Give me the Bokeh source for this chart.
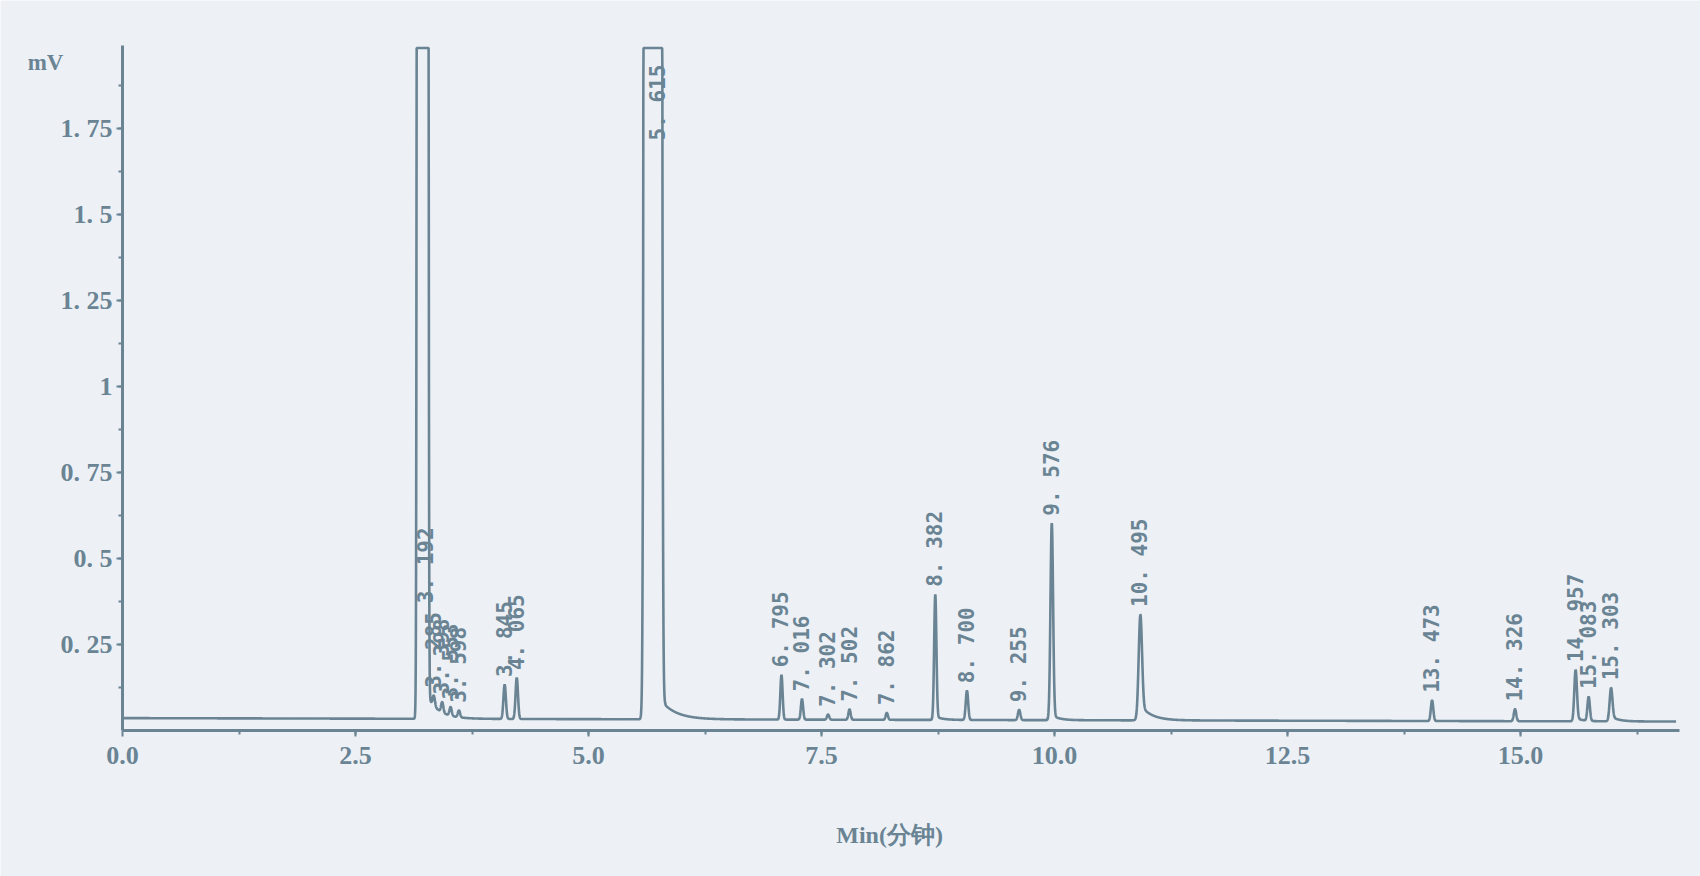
import numpy as np
from bokeh.plotting import figure
from bokeh.models import FixedTicker, Range1d
from bokeh.core.properties import value
from bokeh.embed import file_html
from bokeh.resources import INLINE

# ---------------- data ----------------
peak_labels = ["3. 192", "3. 285", "3. 398", "3. 553", "3. 598", "3. 845", "4. 065",
               "5. 615", "6. 795", "7. 016", "7. 302", "7. 502", "7. 862", "8. 382",
               "8. 700", "9. 255", "9. 576", "10. 495", "13. 473", "14. 326",
               "14. 957", "15. 083", "15. 303"]
# peak positions on the drawn time axis (min)
peak_time = [3.22, 3.34, 3.43, 3.52, 3.61, 4.10, 4.23,
             5.69, 7.07, 7.29, 7.57, 7.80, 8.20, 8.72,
             9.06, 9.62, 9.97, 10.92, 14.05, 14.94,
             15.59, 15.73, 15.97]
# peak amplitude above baseline (mV); off-scale peaks are very large
peak_amp = [1.0e4, 0.030, 0.030, 0.025, 0.020, 0.100, 0.120,
            1.0e4, 0.130, 0.060, 0.015, 0.030, 0.020, 0.360,
            0.085, 0.030, 0.565, 0.285, 0.060, 0.035,
            0.145, 0.070, 0.090]
# peak widths (sigma, min)
peak_sigma = [0.0157, 0.012, 0.012, 0.012, 0.012, 0.013, 0.013,
              0.0246, 0.012, 0.012, 0.012, 0.012, 0.012, 0.012,
              0.013, 0.013, 0.014, 0.018, 0.013, 0.013,
              0.014, 0.013, 0.015]
# tailing after peaks (amplitude mV, decay min)
tail_amp = [0.095, 0, 0, 0, 0, 0, 0,
            0.095, 0, 0, 0, 0, 0, 0.01,
            0, 0, 0.015, 0.045, 0, 0,
            0.01, 0, 0.015]
tail_tau = [0.13, 1, 1, 1, 1, 1, 1,
            0.16, 1, 1, 1, 1, 1, 0.08,
            1, 1, 0.08, 0.12, 1, 1,
            0.08, 1, 0.08]
baseline_start = 0.036
baseline_end = 0.026
run_end = 16.67

# label anchors for the two off-scale peaks (time, mV at start of text)
offscale_label_time = {"3. 192": 3.26, "5. 615": 5.75}
offscale_label_y = {"3. 192": 0.37, "5. 615": 1.715}

y_ticks = [0.25, 0.5, 0.75, 1.0, 1.25, 1.5, 1.75]
y_tick_labels = ["0. 25", "0. 5", "0. 75", "1", "1. 25", "1. 5", "1. 75"]
x_ticks = [0.0, 2.5, 5.0, 7.5, 10.0, 12.5, 15.0]
x_tick_labels = ["0.0", "2.5", "5.0", "7.5", "10.0", "12.5", "15.0"]
y_unit = "mV"
x_title = "Min(分钟)"

# ---------------- styling ----------------
INK = "#6a8494"
BG = "#edf1f6"
Y_AXIS_TOP = 1.99
X_AXIS_END = 16.70

# ---------------- build trace ----------------
t = np.arange(0.0, run_end, 0.002)
sig = baseline_start + (baseline_end - baseline_start) * t / run_end
for tm, a, s, ta, tt in zip(peak_time, peak_amp, peak_sigma, tail_amp, tail_tau):
    sig = sig + a * np.exp(-0.5 * ((t - tm) / s) ** 2)
    if ta > 0:
        d = t - tm
        onset = 0.5 * (1 + np.tanh(d / (1.5 * s)))
        sig = sig + ta * np.exp(-np.clip(d, 0, None) / tt) * onset
trace = np.minimum(sig, Y_AXIS_TOP - 0.006)

lab_x, lab_y = [], []
for lbl, tm in zip(peak_labels, peak_time):
    if lbl in offscale_label_time:
        lab_x.append(offscale_label_time[lbl])
        lab_y.append(offscale_label_y[lbl])
    else:
        m = (t > tm - 0.03) & (t < tm + 0.03)
        lab_x.append(tm)
        lab_y.append(float(trace[m].max()) + 0.022)

# ---------------- figure ----------------
p = figure(width=1700, height=876, output_backend="svg", toolbar_location=None,
           x_range=Range1d(-1.309, 16.93), y_range=Range1d(-0.4244, 2.122),
           min_border=0, min_border_left=0, min_border_right=0,
           min_border_top=0, min_border_bottom=0)
p.background_fill_color = BG
p.border_fill_color = BG
p.outline_line_color = None
p.xgrid.visible = False
p.ygrid.visible = False

p.xaxis.fixed_location = 0
p.yaxis.fixed_location = 0
p.xaxis.bounds = (0, X_AXIS_END)
p.yaxis.bounds = (0, Y_AXIS_TOP)

for ax in (p.xaxis[0], p.yaxis[0]):
    ax.axis_line_color = INK
    ax.axis_line_width = 3
    ax.major_tick_line_color = INK
    ax.major_tick_line_width = 2
    ax.minor_tick_line_color = INK
    ax.minor_tick_line_width = 2
    ax.major_tick_in = 0
    ax.minor_tick_in = 0
    ax.major_tick_out = 6
    ax.minor_tick_out = 4
    ax.major_label_text_color = INK
    ax.major_label_text_font = "Liberation Serif"
    ax.major_label_text_font_style = "bold"
    ax.major_label_text_font_size = "26px"

p.yaxis.ticker = FixedTicker(ticks=y_ticks, minor_ticks=list(np.arange(0.125, 2.0, 0.125)))
p.yaxis.major_label_overrides = {k: v for k, v in zip(y_ticks, y_tick_labels)}
p.yaxis.major_label_standoff = 4
p.xaxis.ticker = FixedTicker(ticks=x_ticks, minor_ticks=list(np.arange(1.25, 16.3, 1.25)))
p.xaxis.major_label_overrides = {k: v for k, v in zip(x_ticks, x_tick_labels)}
p.xaxis.major_label_standoff = 10

p.line(t, trace, line_color=INK, line_width=2.6)

p.text(x=lab_x, y=lab_y, text=peak_labels, angle=np.pi / 2,
       text_align="left", text_baseline="middle",
       text_font=value("DejaVu Sans Mono"), text_font_style="bold",
       text_font_size="21px", text_color=INK)

p.text(x=[-0.826], y=[1.942], text=[y_unit], text_align="center",
       text_baseline="middle", text_font=value("Liberation Serif"),
       text_font_style="bold", text_font_size="23px", text_color=INK)
p.text(x=[8.23], y=[-0.305], text=[x_title], text_align="center",
       text_baseline="middle", text_font=value("Liberation Serif"),
       text_font_style="bold", text_font_size="24px", text_color=INK)

html = file_html(p, INLINE)
html = html.replace("<body>", '<body style="background-color:%s;">' % BG, 1)
open("out.html", "w").write(html)
